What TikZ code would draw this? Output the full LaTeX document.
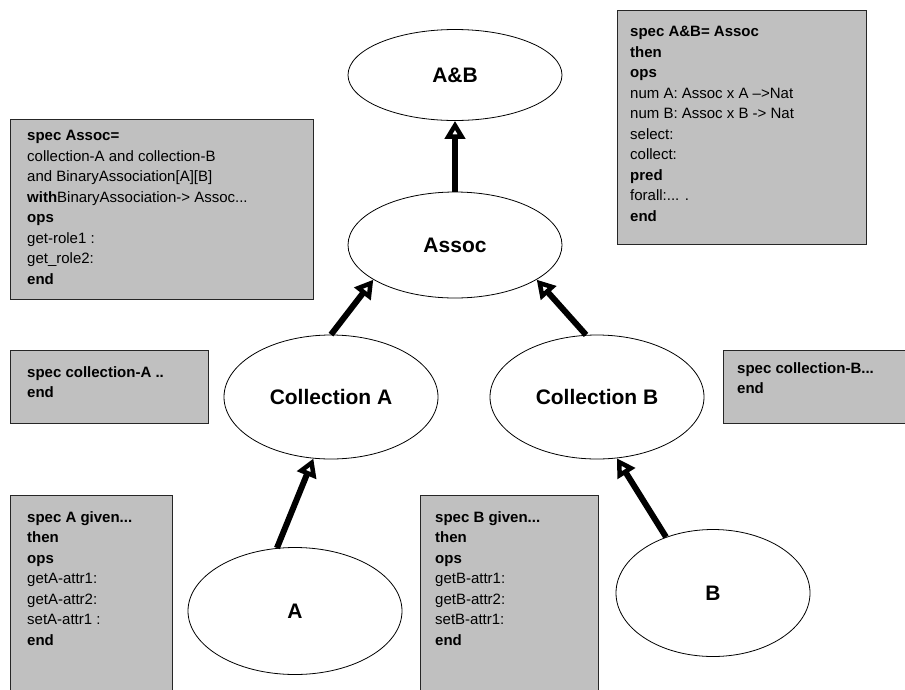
\documentclass[tikz,border=0pt]{standalone}
\usepackage{fontspec}
\setmainfont{Liberation Sans}
\usetikzlibrary{shapes.geometric,arrows.meta}

\definecolor{specgray}{RGB}{192,192,192}

\begin{document}
\begin{tikzpicture}[x=1pt, y=-1pt,
      cls/.style={ellipse, draw, line width=0.8pt, fill=white, inner sep=0pt, font=\fontsize{21}{25}\selectfont\bfseries},
      specbox/.style={rectangle, draw=black!85, line width=1pt, fill=specgray, anchor=north west, inner sep=0pt},
      spectext/.style={anchor=north west, align=left, inner sep=0pt, font=\fontsize{15}{20.5}\selectfont},
      inherit/.style={-{Triangle[open, length=18pt, width=20pt, line width=5.5pt]}, line width=6pt}
    ]
    \useasboundingbox (0,0) rectangle (905,689);
    \clip (0,0) rectangle (905,689);

    % classes
    \node[cls, minimum width=214, minimum height=91] (AB) at (455,75) {A\&B};
    \node[cls, minimum width=214, minimum height=106] (Assoc) at (455,245) {Assoc};
    \node[cls, minimum width=214, minimum height=124] (CollA) at (331,397) {Collection A};
    \node[cls, minimum width=214, minimum height=124] (CollB) at (597,397) {Collection B};
    \node[cls, minimum width=214, minimum height=127] (A) at (295,611) {A};
    \node[cls, minimum width=194, minimum height=127] (B) at (713,593) {B};

    % specifications
    \node[specbox, minimum width=249, minimum height=234] (ABbox) at (617,10) {};
    \node[spectext] (ABspec) at ([xshift=13pt, yshift=-16pt]ABbox.north west)
        {\textbf{spec A\&B= Assoc}\\ \textbf{then}\\ \textbf{ops}\\ num A: Assoc x A -->Nat\\
         num B: Assoc x B -> Nat\\ select:\\ collect:\\ \textbf{pred}\\ forall:... .\\ \textbf{end}};

    \node[specbox, minimum width=303, minimum height=180] (Assocbox) at (10,119) {};
    \node[spectext] (Assocspec) at ([xshift=17pt, yshift=-11pt]Assocbox.north west)
        {\textbf{spec Assoc=}\\ collection-A and collection-B\\ and BinaryAssociation[A][B]\\
         \textbf{with}BinaryAssociation-> Assoc...\\ \textbf{ops}\\ get-role1 :\\ get\_role2:\\ \textbf{end}};

    \node[specbox, minimum width=198, minimum height=73] (CollAbox) at (10,350) {};
    \node[spectext] (CollAspec) at ([xshift=17pt, yshift=-16pt]CollAbox.north west)
        {\textbf{spec collection-A ..}\\ \textbf{end}};

    \node[specbox, minimum width=200, minimum height=73] (CollBbox) at (723,350) {};
    \node[spectext] (CollBspec) at ([xshift=14pt, yshift=-12pt]CollBbox.north west)
        {\textbf{spec collection-B...}\\ \textbf{end}};

    \node[specbox, minimum width=162, minimum height=210] (Abox) at (10,495) {};
    \node[spectext] (Aspec) at ([xshift=17pt, yshift=-16pt]Abox.north west)
        {\textbf{spec A given...}\\ \textbf{then}\\ \textbf{ops}\\ getA-attr1:\\ getA-attr2:\\ setA-attr1 :\\ \textbf{end}};

    \node[specbox, minimum width=178, minimum height=210] (Bbox) at (420,495) {};
    \node[spectext] (Bspec) at ([xshift=15pt, yshift=-16pt]Bbox.north west)
        {\textbf{spec B given...}\\ \textbf{then}\\ \textbf{ops}\\ getB-attr1:\\ getB-attr2:\\ setB-attr1:\\ \textbf{end}};

    % inheritance arrows
    \draw[inherit] (Assoc) -- (AB);
    \draw[inherit] (CollA.north) -- (Assoc.203);
    \draw[inherit] (CollB.100) -- (Assoc.337);
    \draw[inherit] (A.106) -- (CollA.254);
    \draw[inherit] (B.130) -- (CollB.288);

\end{tikzpicture}
\end{document}
